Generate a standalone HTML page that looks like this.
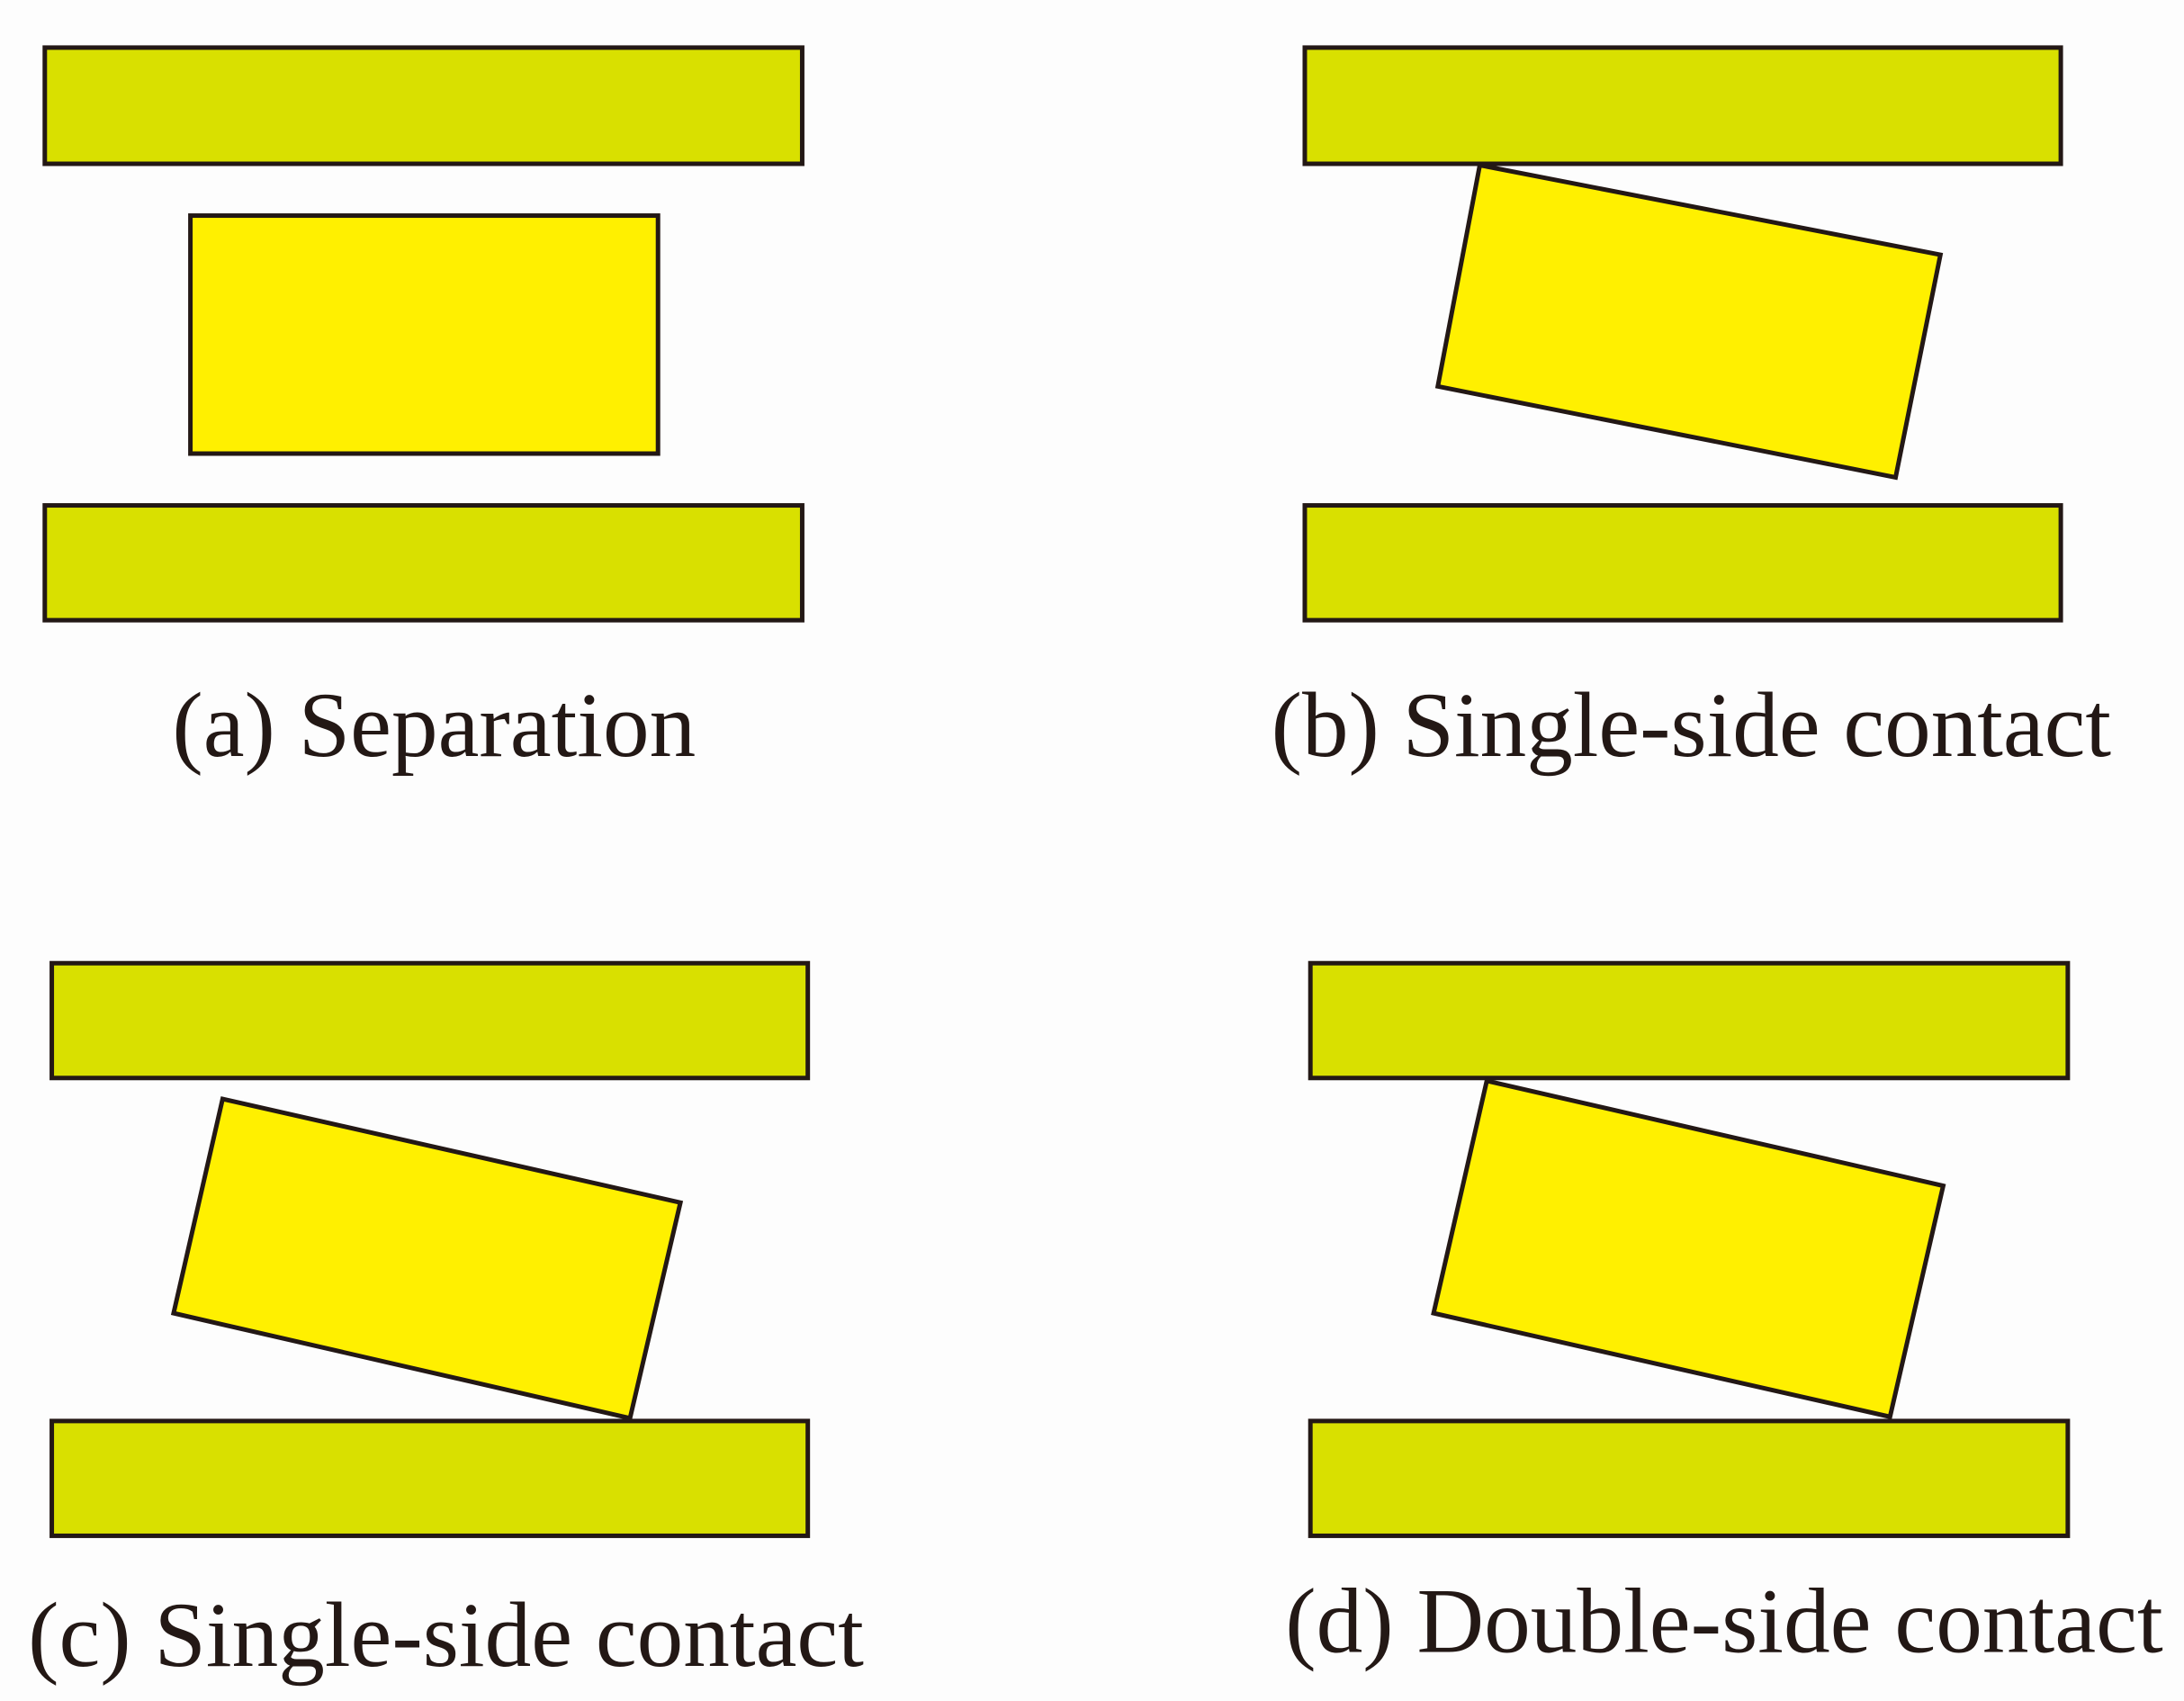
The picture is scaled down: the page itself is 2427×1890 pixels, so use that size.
<!DOCTYPE html>
<html><head><meta charset="utf-8"><style>
html,body{margin:0;padding:0;background:#fdfdfd;}
svg{display:block;}
</style></head><body>
<svg width="2427" height="1890" viewBox="0 0 1560 1215" preserveAspectRatio="none" xmlns="http://www.w3.org/2000/svg">
<rect width="1560" height="1215" fill="#fdfdfd"/>
<g stroke="#231815" stroke-width="3.2" fill="#d9e000">
<rect x="32" y="34" width="541" height="83"/>
<rect x="32" y="361" width="541" height="82"/>
<rect x="932" y="34" width="540" height="83"/>
<rect x="932" y="361" width="540" height="82"/>
<rect x="37" y="688" width="540" height="82"/>
<rect x="37" y="1015" width="540" height="82"/>
<rect x="936" y="688" width="541" height="82"/>
<rect x="936" y="1015" width="541" height="82"/>
</g>
<g stroke="#231815" stroke-width="3.2" fill="#fff000" stroke-linejoin="miter">
<rect x="136" y="154" width="334" height="170"/>
<polygon points="1057,118 1386,182 1354,341 1027,276"/>
<polygon points="159,785 486,859 450,1013 124,938"/>
<polygon points="1062,772 1388,847 1350,1012 1024,938"/>
</g>
<g font-family="'Liberation Serif', serif" font-size="66" fill="#231815">
<text x="123" y="540" textLength="374" lengthAdjust="spacingAndGlyphs">(a) Separation</text>
<text x="908" y="540" textLength="600" lengthAdjust="spacingAndGlyphs">(b) Single-side contact</text>
<text x="20" y="1190" textLength="597" lengthAdjust="spacingAndGlyphs">(c) Single-side contact</text>
<text x="918" y="1180" textLength="627" lengthAdjust="spacingAndGlyphs">(d) Double-side contact</text>
</g>
</svg>
</body></html>
